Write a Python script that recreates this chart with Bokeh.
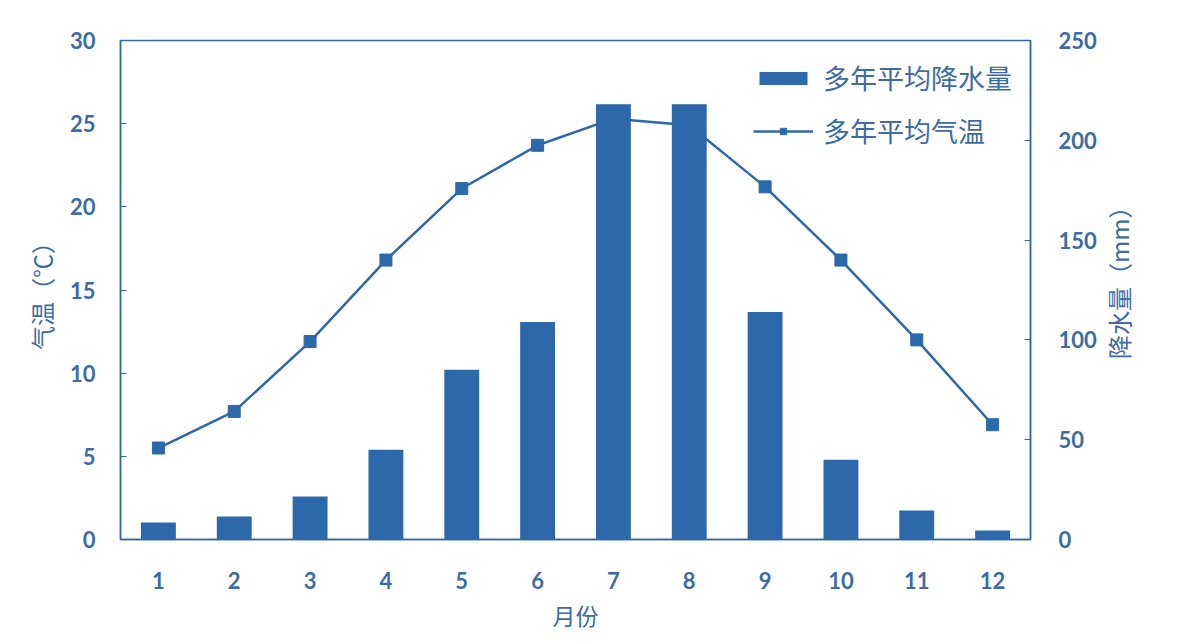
import math
from bokeh.plotting import figure
from bokeh.layouts import row
from bokeh.models import Range1d, LinearAxis, FixedTicker, Legend, LegendItem, ColumnDataSource
from bokeh.core.properties import value
from bokeh.embed import file_html
from bokeh.resources import INLINE

months = [1, 2, 3, 4, 5, 6, 7, 8, 9, 10, 11, 12]
month_labels = ["1", "2", "3", "4", "5", "6", "7", "8", "9", "10", "11", "12"]
temperature = [5.5, 7.7, 11.9, 16.8, 21.1, 23.7, 25.3, 24.9, 21.2, 16.8, 12.0, 6.9]
precip = [8.5, 11.5, 21.5, 45, 85, 109, 218, 218, 114, 40, 14.5, 4.5]
right_title = "降水量（mm）"

BLUE = "#2d68aa"
TXT = "#3c6ca3"
CJK = "Noto Sans CJK SC"
NUM = "Lato"

src = ColumnDataSource(dict(m=months, t=temperature, p=precip))

p = figure(width=1104, height=634, output_backend="svg", toolbar_location=None,
           x_range=Range1d(0.5, 12.5), y_range=Range1d(0, 30),
           min_border_left=120, min_border_right=74, min_border_top=40, min_border_bottom=93)
p.extra_y_ranges = {"precip": Range1d(0, 250)}
p.grid.visible = False
p.outline_line_color = BLUE
p.outline_line_width = 1.5
p.background_fill_color = "white"
p.border_fill_color = "white"

bars = p.vbar(x="m", top="p", width=0.46, bottom=0, source=src, y_range_name="precip",
              fill_color=BLUE, line_color=None)
line = p.line(x="m", y="t", source=src, line_color=BLUE, line_width=2.5)
pts = p.scatter(x="m", y="t", source=src, marker="square", size=12, fill_color=BLUE, line_color=BLUE)

# bottom axis
xa = p.xaxis[0]
xa.ticker = FixedTicker(ticks=months)
xa.major_label_overrides = {m: l for m, l in zip(months, month_labels)}
xa.axis_label = "月份"
xa.axis_label_text_font = CJK
xa.axis_label_text_font_size = "23px"
xa.axis_label_text_font_style = "normal"
xa.axis_label_text_color = TXT
xa.axis_label_standoff = 6
xa.major_label_text_font = NUM
xa.major_label_text_font_style = "bold"
xa.major_label_text_font_size = "22px"
xa.major_label_text_color = TXT
xa.major_label_standoff = 26
xa.major_tick_line_color = None
xa.minor_tick_line_color = None
xa.axis_line_color = BLUE
xa.axis_line_width = 1.5

# left axis
ya = p.yaxis[0]
ya.ticker = FixedTicker(ticks=[0, 5, 10, 15, 20, 25, 30])
ya.axis_label = "气温（℃）"
ya.axis_label_text_font = CJK
ya.axis_label_text_font_size = "24px"
ya.axis_label_text_font_style = "normal"
ya.axis_label_text_color = TXT
ya.axis_label_standoff = 8
ya.major_label_text_font = NUM
ya.major_label_text_font_style = "bold"
ya.major_label_text_font_size = "22px"
ya.major_label_text_color = TXT
ya.major_label_standoff = 25
ya.major_tick_in = 6
ya.major_tick_out = 0
ya.major_tick_line_color = BLUE
ya.minor_tick_line_color = None
ya.axis_line_color = BLUE
ya.axis_line_width = 1.5

# right axis
ra = LinearAxis(y_range_name="precip", ticker=FixedTicker(ticks=[0, 50, 100, 150, 200, 250]))
ra.major_label_text_font = NUM
ra.major_label_text_font_style = "bold"
ra.major_label_text_font_size = "22px"
ra.major_label_text_color = TXT
ra.major_label_standoff = 28
ra.major_tick_in = 6
ra.major_tick_out = 0
ra.major_tick_line_color = BLUE
ra.minor_tick_line_color = None
ra.axis_line_color = BLUE
ra.axis_line_width = 1.5
p.add_layout(ra, "right")

legend = Legend(items=[LegendItem(label="多年平均降水量", renderers=[bars]),
                       LegendItem(label="多年平均气温", renderers=[line, pts])],
                location="top_right")
legend.label_text_font = CJK
legend.label_text_font_size = "27px"
legend.label_text_color = TXT
legend.background_fill_alpha = 0
legend.border_line_color = None
legend.glyph_width = 60
legend.glyph_height = 16
legend.spacing = 14
legend.padding = 0
legend.margin = 18
legend.label_standoff = 10
p.add_layout(legend, "center")

# right-hand axis title, reading bottom to top
p2 = figure(width=36, height=634, output_backend="svg", toolbar_location=None,
            x_range=Range1d(0, 1), y_range=Range1d(0, 30),
            min_border_left=0, min_border_right=0, min_border_top=40, min_border_bottom=93)
p2.axis.visible = False
p2.grid.visible = False
p2.outline_line_color = None
p2.border_fill_color = "white"
p2.background_fill_color = "white"
p2.text(x=[0.4], y=[15.8], text=[right_title], angle=math.pi / 2,
        text_align="center", text_baseline="middle", text_font=value(CJK),
        text_font_size="24px", text_color=TXT)

layout = row(p, p2)
open("out.html", "w").write(file_html(layout, INLINE))
